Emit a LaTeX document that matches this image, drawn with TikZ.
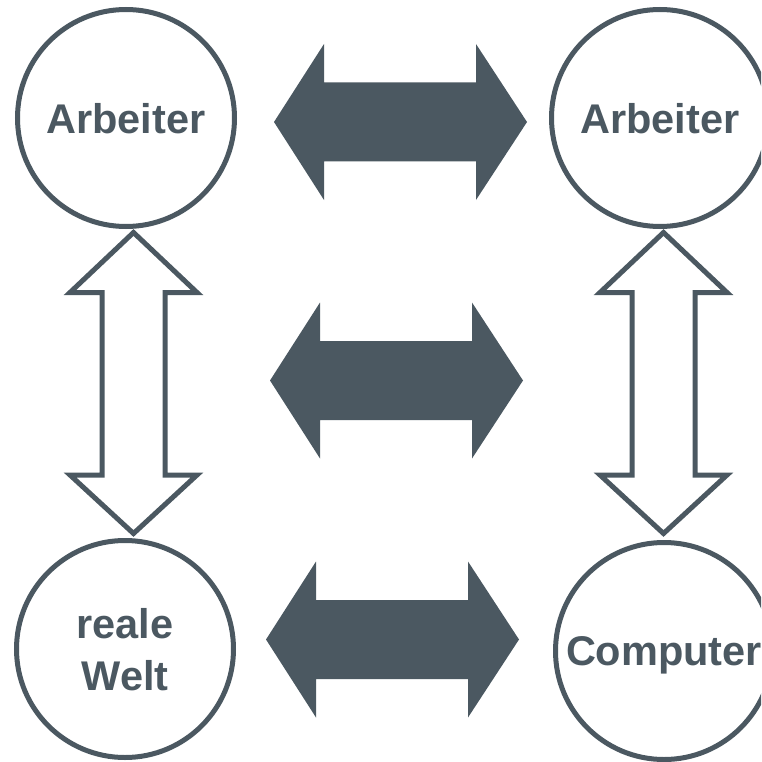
\documentclass[tikz,border=0pt]{standalone}
\usepackage{fontspec}
\setmainfont{Liberation Sans}
\definecolor{slate}{RGB}{75,88,97}
\begin{document}
\begin{tikzpicture}[x=1pt,y=-1pt,
  circ/.style={circle,draw=slate,line width=5pt,minimum size=217pt,inner sep=0pt,
    text=slate,font=\fontsize{41.5}{52}\selectfont\bfseries,align=center,text depth=0pt},
  blockarrow/.style={fill=slate,draw=none},
  hollowarrow/.style={draw=slate,line width=5pt,fill=white,line join=miter}]
\useasboundingbox (0,0) rectangle (761,762);
\clip (0,0) rectangle (761,762);
% circles
\node[circ] (a1) at (126,118) {Arbeiter};
\node[circ] (a2) at (660,118) {Arbeiter};
\node[circ] (rw) at (125,649) {reale\\Welt};
\node[circ] (co) at (664,651) {Computer};
% filled horizontal double arrows
\foreach \xl/\yc in {274/122, 270/380.5, 266/639.5}{
  \begin{scope}[shift={(\xl,\yc)}]
    \fill[blockarrow] (0,0) -- (50,-78) -- (50,-39.5) -- (202,-39.5) -- (202,-78)
      -- (253,0) -- (202,78) -- (202,39.5) -- (50,39.5) -- (50,78) -- cycle;
  \end{scope}
}
% hollow vertical double arrows
\foreach \xc in {133.5, 663.5}{
  \begin{scope}[shift={(\xc,0)}]
    \draw[hollowarrow] (0,232.5) -- (-63.5,292.5) -- (-31.5,292.5) -- (-31.5,475)
      -- (-63.5,475) -- (0,533.5) -- (63.5,475) -- (31.5,475) -- (31.5,292.5)
      -- (63.5,292.5) -- cycle;
  \end{scope}
}
\end{tikzpicture}
\end{document}
